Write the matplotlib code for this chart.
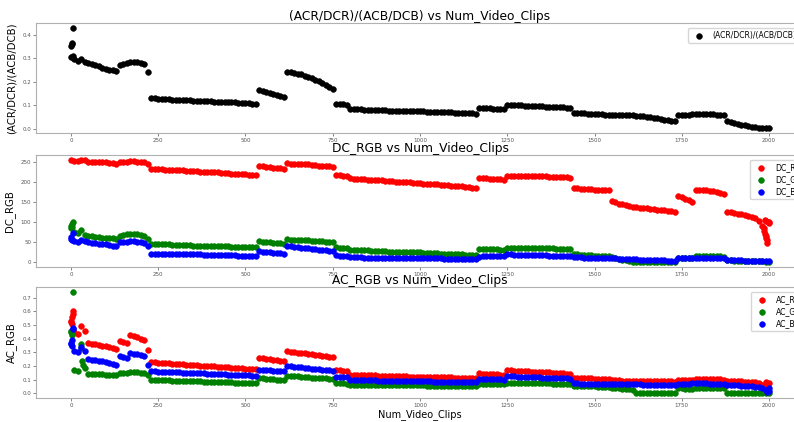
import matplotlib
matplotlib.use("Agg")
import matplotlib.pyplot as plt

# sample positions along Num_Video_Clips (every 10th clip)
CLIPS = list(range(0, 2001, 10))

RATIO = [
    0.305, 0.295, 0.288, 0.297, 0.282, 0.278, 0.275, 0.270, 0.265, 0.260,
    0.256, 0.252, 0.248, 0.245, 0.272, 0.274, 0.278, 0.283, 0.285, 0.284,
    0.280, 0.276, 0.243, 0.132, 0.130, 0.128, 0.127, 0.126, 0.125, 0.124,
    0.123, 0.122, 0.122, 0.121, 0.121, 0.120, 0.119, 0.119, 0.118, 0.118,
    0.117, 0.116, 0.116, 0.115, 0.115, 0.114, 0.113, 0.113, 0.112, 0.111,
    0.110, 0.109, 0.107, 0.106, 0.166, 0.162, 0.158, 0.153, 0.149, 0.145,
    0.141, 0.137, 0.242, 0.240, 0.238, 0.235, 0.231, 0.226, 0.221, 0.215,
    0.209, 0.203, 0.195, 0.187, 0.179, 0.170, 0.106, 0.105, 0.104, 0.102,
    0.084, 0.084, 0.083, 0.083, 0.082, 0.082, 0.081, 0.081, 0.080, 0.080,
    0.079, 0.078, 0.078, 0.077, 0.077, 0.076, 0.076, 0.075, 0.075, 0.074,
    0.074, 0.074, 0.073, 0.073, 0.072, 0.072, 0.071, 0.071, 0.070, 0.070,
    0.069, 0.069, 0.068, 0.067, 0.067, 0.066, 0.065, 0.089, 0.089, 0.088,
    0.087, 0.086, 0.086, 0.085, 0.084, 0.102, 0.101, 0.101, 0.100, 0.100,
    0.099, 0.098, 0.098, 0.097, 0.096, 0.096, 0.095, 0.094, 0.093, 0.093,
    0.092, 0.091, 0.090, 0.089, 0.068, 0.067, 0.067, 0.066, 0.065, 0.064,
    0.064, 0.063, 0.062, 0.061, 0.061, 0.060, 0.060, 0.059, 0.059, 0.058,
    0.058, 0.057, 0.056, 0.054, 0.053, 0.051, 0.049, 0.047, 0.045, 0.043,
    0.040, 0.038, 0.035, 0.033, 0.058, 0.059, 0.060, 0.061, 0.062, 0.063,
    0.063, 0.063, 0.062, 0.062, 0.062, 0.061, 0.061, 0.060, 0.035, 0.030,
    0.026, 0.022, 0.018, 0.015, 0.012, 0.010, 0.008, 0.006, 0.005, 0.004,
    0.006,
]
RATIO_EXTRA_X = [0, 2, 3, 5, 7]
RATIO_EXTRA_Y = [0.350, 0.360, 0.365, 0.310, 0.428]

DC_R = [
    254, 253, 253, 255, 254, 251, 251, 250, 250, 249,
    249, 248, 247, 246, 250, 251, 251, 252, 252, 251,
    250, 249, 246, 233, 233, 232, 232, 231, 231, 230,
    229, 229, 229, 228, 228, 227, 227, 226, 226, 225,
    225, 224, 224, 223, 223, 222, 221, 221, 220, 220,
    219, 218, 218, 217, 240, 239, 238, 237, 236, 235,
    234, 233, 247, 246, 246, 245, 245, 244, 244, 243,
    242, 241, 241, 240, 239, 238, 218, 217, 216, 214,
    209, 208, 208, 207, 207, 206, 205, 205, 204, 204,
    203, 202, 202, 201, 201, 200, 199, 199, 198, 198,
    197, 196, 196, 195, 194, 194, 193, 192, 192, 191,
    190, 189, 189, 188, 187, 186, 185, 210, 209, 209,
    208, 208, 207, 207, 206, 216, 216, 216, 216, 216,
    216, 215, 215, 215, 214, 214, 214, 213, 213, 213,
    213, 212, 212, 211, 184, 184, 183, 183, 182, 182,
    181, 181, 180, 180, 179, 153, 149, 146, 144, 142,
    140, 138, 137, 136, 135, 134, 132.5, 131.5, 130.5, 129.5,
    129, 128, 127, 126, 166, 162, 158, 154, 151, 180,
    180, 179.5, 179, 178, 177, 175, 173, 170, 126, 125,
    123, 121, 120, 118, 116, 113, 109, 103, 90, 65,
    100,
]
DC_R_EXTRA_X = [1984, 1986, 1988, 1991, 1993, 1995, 1989, 1992, 1996, 2000]
DC_R_EXTRA_Y = [85, 78, 70, 60, 55, 48, 104, 103, 101, 98]

DC_G = [
    90, 76, 73, 79, 67, 65, 64, 63, 62, 61,
    60, 59, 59, 58, 66, 67, 69, 71, 70, 69,
    67, 64, 57, 45, 45, 45, 44, 44, 44, 43,
    43, 43, 42, 42, 42, 41, 41, 41, 40, 40,
    40, 40, 39, 39, 39, 39, 38, 38, 38, 38,
    37.5, 37, 37, 37, 52, 51, 50, 49, 48, 47,
    47, 46, 57, 56, 56, 55, 55, 54, 54, 53,
    53, 52, 52, 51, 51, 50, 37, 36, 36, 35,
    31, 31, 30, 30, 29, 29, 28, 28, 27, 27,
    27, 26, 26, 26, 25, 25, 25, 24, 24, 24,
    24, 23, 23, 23, 22, 22, 21, 21, 21, 20,
    20, 19, 19, 18, 18, 17, 17, 33, 33, 33,
    32, 32, 32, 31, 31, 36, 36, 36, 36, 35,
    35, 35, 35, 35, 34, 34, 34, 34, 34, 33,
    33, 33, 33, 33, 19, 19, 18, 18, 17, 17,
    16, 16, 15, 15, 14, 12, 10, 8, 6, 4,
    2, 1, 0, 0, 0, 0, 0, 0, 0, 0,
    0, 0, 0, 0, 10, 10, 10, 11, 11, 16,
    16, 16, 16, 16, 15, 15, 14, 13, 4, 4,
    3, 3, 3, 3, 2, 2, 2, 2, 2, 1,
    1,
]
DC_G_EXTRA_X = [0, 2, 3, 5]
DC_G_EXTRA_Y = [84, 88, 95, 100]

DC_B = [
    58, 53, 51, 55, 52, 49, 48, 47, 46, 45,
    44, 42, 41, 39, 49, 50, 51, 52, 52, 51,
    50, 48, 40, 21, 21, 21, 21, 20, 20, 20,
    20, 20, 20, 19, 19, 19, 19, 19, 18, 18,
    18, 18, 18, 17, 17, 17, 17, 17, 16, 16,
    16, 16, 15, 15, 27, 26, 25, 24, 23, 22,
    22, 21, 40, 39, 38, 37, 36, 35, 34, 33,
    32, 31, 30, 29, 28, 27, 17, 16, 16, 15,
    12, 12, 12, 12, 11, 11, 11, 11, 11, 11,
    10, 10, 10, 10, 10, 10, 10, 10, 10, 9,
    9, 9, 9, 9, 9, 9, 9, 8, 8, 8,
    8, 8, 8, 8, 8, 8, 8, 13, 14, 14,
    14, 15, 15, 15, 15, 19, 19, 18, 18, 18,
    18, 18, 17, 17, 17, 17, 17, 16, 16, 16,
    16, 16, 15, 15, 12, 12, 12, 11, 11, 11,
    10, 10, 10, 10, 9, 9, 9, 8, 8, 8,
    7, 7, 7, 6, 6, 5, 5, 5, 4, 4,
    4, 3, 3, 3, 9, 9, 10, 10, 10, 11,
    11, 11, 11, 11, 10, 10, 10, 10, 5, 5,
    4, 4, 4, 3, 3, 3, 3, 2, 2, 2,
    2,
]
DC_B_EXTRA_X = [0, 2, 5]
DC_B_EXTRA_Y = [62, 55, 73]

AC_R = [
    0.520, 0.450, 0.435, 0.490, 0.460, 0.365, 0.362, 0.358, 0.353, 0.348,
    0.343, 0.337, 0.330, 0.322, 0.384, 0.378, 0.372, 0.425, 0.418, 0.410,
    0.400, 0.390, 0.315, 0.228, 0.226, 0.224, 0.223, 0.221, 0.219, 0.217,
    0.216, 0.214, 0.212, 0.210, 0.208, 0.207, 0.205, 0.203, 0.201, 0.200,
    0.198, 0.196, 0.194, 0.193, 0.191, 0.189, 0.187, 0.186, 0.184, 0.182,
    0.180, 0.178, 0.177, 0.175, 0.258, 0.255, 0.252, 0.248, 0.245, 0.242,
    0.238, 0.235, 0.310, 0.306, 0.302, 0.298, 0.295, 0.292, 0.289, 0.286,
    0.283, 0.280, 0.276, 0.272, 0.267, 0.262, 0.170, 0.167, 0.164, 0.160,
    0.135, 0.134, 0.134, 0.133, 0.132, 0.132, 0.131, 0.130, 0.129, 0.129,
    0.128, 0.127, 0.127, 0.126, 0.125, 0.124, 0.123, 0.122, 0.122, 0.121,
    0.120, 0.120, 0.119, 0.119, 0.118, 0.118, 0.117, 0.117, 0.116, 0.116,
    0.115, 0.114, 0.114, 0.113, 0.112, 0.111, 0.110, 0.145, 0.144, 0.143,
    0.141, 0.140, 0.139, 0.137, 0.136, 0.168, 0.167, 0.166, 0.165, 0.164,
    0.162, 0.161, 0.159, 0.158, 0.157, 0.155, 0.154, 0.152, 0.151, 0.149,
    0.148, 0.146, 0.144, 0.142, 0.113, 0.112, 0.111, 0.110, 0.109, 0.108,
    0.107, 0.106, 0.105, 0.103, 0.101, 0.095, 0.094, 0.094, 0.093, 0.093,
    0.092, 0.092, 0.091, 0.090, 0.090, 0.089, 0.089, 0.088, 0.088, 0.087,
    0.087, 0.086, 0.086, 0.085, 0.100, 0.100, 0.099, 0.099, 0.098, 0.106,
    0.106, 0.105, 0.105, 0.104, 0.104, 0.103, 0.102, 0.100, 0.090, 0.089,
    0.088, 0.087, 0.086, 0.085, 0.084, 0.082, 0.080, 0.075, 0.060, 0.040,
    0.075,
]
AC_R_EXTRA_X = [0, 2, 4, 5, 6, 1985, 1993, 1996, 1992, 1998]
AC_R_EXTRA_Y = [0.53, 0.51, 0.56, 0.60, 0.58, 0.05, 0.03, 0.025, 0.08, 0.07]

AC_G = [
    0.450, 0.170, 0.160, 0.330, 0.185, 0.142, 0.141, 0.140, 0.139, 0.138,
    0.137, 0.136, 0.135, 0.134, 0.145, 0.145, 0.146, 0.155, 0.155, 0.153,
    0.150, 0.147, 0.130, 0.100, 0.098, 0.097, 0.096, 0.095, 0.094, 0.093,
    0.092, 0.091, 0.090, 0.089, 0.088, 0.088, 0.087, 0.086, 0.085, 0.085,
    0.084, 0.083, 0.082, 0.082, 0.081, 0.080, 0.079, 0.078, 0.077, 0.076,
    0.075, 0.074, 0.073, 0.072, 0.110, 0.108, 0.106, 0.104, 0.102, 0.100,
    0.098, 0.097, 0.128, 0.127, 0.125, 0.123, 0.121, 0.119, 0.117, 0.115,
    0.113, 0.112, 0.110, 0.108, 0.107, 0.105, 0.075, 0.073, 0.072, 0.070,
    0.062, 0.062, 0.062, 0.061, 0.061, 0.061, 0.060, 0.060, 0.060, 0.060,
    0.059, 0.059, 0.059, 0.059, 0.058, 0.058, 0.058, 0.058, 0.058, 0.058,
    0.058, 0.057, 0.056, 0.056, 0.055, 0.055, 0.054, 0.053, 0.053, 0.052,
    0.052, 0.051, 0.051, 0.050, 0.050, 0.050, 0.050, 0.070, 0.070, 0.070,
    0.069, 0.069, 0.069, 0.068, 0.068, 0.078, 0.078, 0.077, 0.077, 0.077,
    0.076, 0.076, 0.075, 0.075, 0.074, 0.073, 0.073, 0.072, 0.071, 0.070,
    0.070, 0.069, 0.069, 0.068, 0.055, 0.055, 0.054, 0.053, 0.052, 0.051,
    0.050, 0.049, 0.048, 0.046, 0.045, 0.040, 0.038, 0.036, 0.034, 0.032,
    0.030, 0.020, 0.002, 0.002, 0.002, 0.002, 0.002, 0.002, 0.002, 0.002,
    0.002, 0.002, 0.002, 0.002, 0.035, 0.035, 0.034, 0.034, 0.033, 0.040,
    0.040, 0.039, 0.039, 0.038, 0.037, 0.037, 0.036, 0.035, 0.002, 0.002,
    0.002, 0.002, 0.002, 0.002, 0.002, 0.002, 0.002, 0.002, 0.002, 0.002,
    0.005,
]
AC_G_EXTRA_X = [0, 2, 3, 5, 28, 33, 36]
AC_G_EXTRA_Y = [0.455, 0.43, 0.44, 0.742, 0.36, 0.24, 0.21]

AC_B = [
    0.360, 0.310, 0.300, 0.340, 0.310, 0.250, 0.246, 0.242, 0.238, 0.233,
    0.228, 0.222, 0.215, 0.207, 0.272, 0.266, 0.260, 0.295, 0.290, 0.285,
    0.278, 0.270, 0.205, 0.161, 0.160, 0.158, 0.157, 0.156, 0.155, 0.154,
    0.153, 0.152, 0.151, 0.150, 0.149, 0.148, 0.147, 0.146, 0.145, 0.144,
    0.143, 0.142, 0.141, 0.140, 0.138, 0.137, 0.136, 0.135, 0.134, 0.133,
    0.132, 0.130, 0.128, 0.124, 0.172, 0.170, 0.169, 0.167, 0.166, 0.165,
    0.164, 0.162, 0.200, 0.198, 0.195, 0.192, 0.189, 0.186, 0.183, 0.180,
    0.178, 0.176, 0.173, 0.170, 0.168, 0.165, 0.122, 0.121, 0.120, 0.119,
    0.100, 0.099, 0.098, 0.097, 0.096, 0.095, 0.094, 0.094, 0.093, 0.093,
    0.092, 0.092, 0.091, 0.091, 0.090, 0.090, 0.089, 0.089, 0.088, 0.088,
    0.087, 0.087, 0.086, 0.086, 0.085, 0.085, 0.084, 0.084, 0.083, 0.083,
    0.082, 0.082, 0.081, 0.081, 0.081, 0.080, 0.080, 0.105, 0.105, 0.104,
    0.103, 0.102, 0.102, 0.101, 0.100, 0.125, 0.124, 0.123, 0.122, 0.121,
    0.120, 0.119, 0.118, 0.117, 0.116, 0.115, 0.114, 0.113, 0.112, 0.111,
    0.110, 0.109, 0.108, 0.106, 0.072, 0.072, 0.071, 0.071, 0.070, 0.070,
    0.070, 0.069, 0.069, 0.068, 0.068, 0.068, 0.067, 0.067, 0.066, 0.066,
    0.065, 0.065, 0.064, 0.064, 0.063, 0.062, 0.062, 0.061, 0.061, 0.060,
    0.060, 0.059, 0.059, 0.058, 0.070, 0.070, 0.071, 0.071, 0.072, 0.072,
    0.072, 0.072, 0.072, 0.071, 0.071, 0.071, 0.070, 0.070, 0.060, 0.059,
    0.058, 0.057, 0.056, 0.055, 0.053, 0.050, 0.048, 0.045, 0.035, 0.020,
    0.015,
]
AC_B_EXTRA_X = [0, 2, 4, 5, 6, 1995, 2000]
AC_B_EXTRA_Y = [0.37, 0.35, 0.39, 0.48, 0.47, 0.01, 0.04]

MS = 17
TITLE_FS = 8.8
LABEL_FS = 7.3
TICK_FS = 4
SPINE = "#b0b0b0"


def style_axes(ax, title, ylabel):
    ax.set_title(title, fontsize=TITLE_FS, pad=1.5)
    ax.set_ylabel(ylabel, fontsize=LABEL_FS, labelpad=4)
    ax.tick_params(labelsize=TICK_FS, length=2, width=0.5, colors="#555555", pad=1.5)
    for sp in ax.spines.values():
        sp.set_color(SPINE)
        sp.set_linewidth(0.8)


def scatter(ax, y, ex, ey, color, label):
    ax.scatter(CLIPS, y, s=MS, c=color, label=label, edgecolors=color, linewidths=0.4)
    ax.scatter(ex, ey, s=MS, c=color, edgecolors=color, linewidths=0.4)


def main() -> None:
    fig = plt.figure(figsize=(7.94, 4.22), dpi=100)
    left, width = 36 / 794, 768 / 794
    ax1 = fig.add_axes([left, 1 - 133 / 422, width, 110 / 422])
    ax2 = fig.add_axes([left, 1 - 267 / 422, width, 112 / 422])
    ax3 = fig.add_axes([left, 1 - 398 / 422, width, 111 / 422])

    scatter(ax1, RATIO, RATIO_EXTRA_X, RATIO_EXTRA_Y, "black", "(ACR/DCR)/(ACB/DCB)")
    style_axes(ax1, "(ACR/DCR)/(ACB/DCB) vs Num_Video_Clips", "(ACR/DCR)/(ACB/DCB)")
    ax1.legend(loc="upper right", fontsize=5.5, scatterpoints=1, borderaxespad=0.6)

    scatter(ax2, DC_R, DC_R_EXTRA_X, DC_R_EXTRA_Y, "red", "DC_R")
    scatter(ax2, DC_G, DC_G_EXTRA_X, DC_G_EXTRA_Y, "green", "DC_G")
    scatter(ax2, DC_B, DC_B_EXTRA_X, DC_B_EXTRA_Y, "blue", "DC_B")
    style_axes(ax2, "DC_RGB vs Num_Video_Clips", "DC_RGB")
    ax2.legend(loc="upper right", fontsize=5.6, scatterpoints=1, borderaxespad=0.6,
               labelspacing=0.4)

    scatter(ax3, AC_R, AC_R_EXTRA_X, AC_R_EXTRA_Y, "red", "AC_R")
    scatter(ax3, AC_G, AC_G_EXTRA_X, AC_G_EXTRA_Y, "green", "AC_G")
    scatter(ax3, AC_B, AC_B_EXTRA_X, AC_B_EXTRA_Y, "blue", "AC_B")
    style_axes(ax3, "AC_RGB vs Num_Video_Clips", "AC_RGB")
    ax3.set_xlabel("Num_Video_Clips", fontsize=7, labelpad=1)
    ax3.legend(loc="upper right", fontsize=5.6, scatterpoints=1, borderaxespad=0.6,
               labelspacing=0.4)

    for ax in (ax1, ax2, ax3):
        ax.set_xticks([0, 250, 500, 750, 1000, 1250, 1500, 1750, 2000])

    fig.savefig("out.png", dpi=100)
    plt.close(fig)


if __name__ == "__main__":
    main()
